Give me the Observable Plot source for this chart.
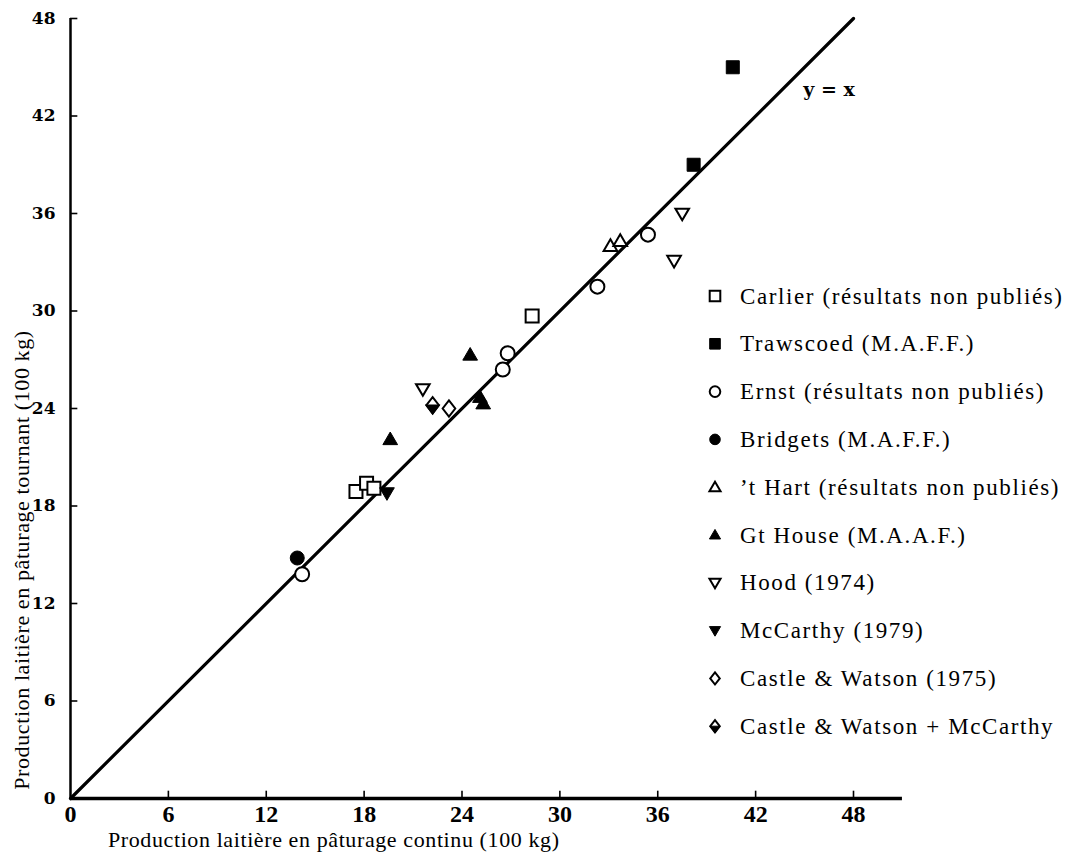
<!DOCTYPE html>
<html><head><meta charset="utf-8">
<script src="https://cdn.jsdelivr.net/npm/d3@7"></script>
<script src="https://cdn.jsdelivr.net/npm/@observablehq/plot@0.6"></script>
<style>
body{margin:0;background:#fff;}
#wrap{position:relative;width:1071px;height:857px;overflow:hidden;}
#wrap svg{position:absolute;left:0;top:0;}
.ttl{position:absolute;font-family:"Liberation Serif",serif;font-size:22px;letter-spacing:0.6px;color:#000;white-space:nowrap;line-height:26px;}
</style></head><body><div id="wrap"></div>
<script>
// ---- data ----
const xTicks = [0, 6, 12, 18, 24, 30, 36, 42, 48];
const yTicks = [0, 6, 12, 18, 24, 30, 36, 42, 48];
const diagonal = [[0, 0], [48, 48]];

const carlier   = [[17.5, 18.9], [18.15, 19.4], [18.6, 19.1], [28.3, 29.7]];
const trawscoed = [[40.6, 45.0], [38.2, 39.0]];
const ernst     = [[26.8, 27.4], [26.5, 26.4], [35.4, 34.7], [32.3, 31.5], [14.2, 13.8]];
const bridgets  = [[13.9, 14.8]];
const tHart     = [[33.1, 34.0], [33.7, 34.3]];
const gtHouse   = [[24.5, 27.3], [25.1, 24.7], [25.3, 24.3], [19.6, 22.1]];
const hood      = [[37.5, 36.0], [37.0, 33.1], [21.6, 25.2]];
const mccarthy  = [[19.4, 18.8]];
const castle    = [[23.2, 24.0]];
const castleMc  = [[22.2, 24.2]];

const seriesNames = [
  "Carlier (résultats non publiés)",
  "Trawscoed (M.A.F.F.)",
  "Ernst (résultats non publiés)",
  "Bridgets (M.A.F.F.)",
  "’t Hart (résultats non publiés)",
  "Gt House (M.A.A.F.)",
  "Hood (1974)",
  "McCarthy (1979)",
  "Castle & Watson (1975)",
  "Castle & Watson + McCarthy"
];
const eqLabel = ["y = x"];
const xTitle = "Production laitière en pâturage continu (100 kg)";
const yTitle = "Production laitière en pâturage tournant (100 kg)";

// ---- symbols ----
function sym(fn){ return {draw(ctx, size){ const r = Math.sqrt(size/Math.PI); fn(ctx, r); }}; }
const SQ = sym((c,r)=>{ c.rect(-r,-r,2*r,2*r); });
const CI = sym((c,r)=>{ c.moveTo(r,0); c.arc(0,0,r,0,2*Math.PI); });
const TU = sym((c,r)=>{ c.moveTo(0,-r*1.05); c.lineTo(r*1.05,r*0.75); c.lineTo(-r*1.05,r*0.75); c.closePath(); });
const TD = sym((c,r)=>{ c.moveTo(0,r*1.05); c.lineTo(r*1.05,-r*0.75); c.lineTo(-r*1.05,-r*0.75); c.closePath(); });
const DI = sym((c,r)=>{ c.moveTo(0,-r*1.15); c.lineTo(r*0.9,0); c.lineTo(0,r*1.15); c.lineTo(-r*0.9,0); c.closePath(); });
const HD = sym((c,r)=>{ c.moveTo(-r*0.9,0); c.lineTo(r*0.9,0); c.lineTo(0,r*1.25); c.closePath(); });

const styles = [
  {data: carlier,   sym: SQ, filled: false, r: 6.5},
  {data: trawscoed, sym: SQ, filled: true,  r: 6.5},
  {data: ernst,     sym: CI, filled: false, r: 7},
  {data: bridgets,  sym: CI, filled: true,  r: 7},
  {data: tHart,     sym: TU, filled: false, r: 6.5},
  {data: gtHouse,   sym: TU, filled: true,  r: 7},
  {data: hood,      sym: TD, filled: false, r: 6.5},
  {data: mccarthy,  sym: TD, filled: true,  r: 7},
  {data: castle,    sym: DI, filled: false, r: 7},
  {data: castleMc,  sym: DI, filled: false, r: 7, half: true}
];

const marks = [
  // tick labels
  Plot.text(xTicks, {x: d => d, y: () => 0, dy: 16, text: d => String(d), fontSize: 24,
    fontFamily: "'Liberation Serif', serif", fontWeight: "bold"}),
  Plot.text(yTicks, {x: () => 0, y: d => d, dx: -15, textAnchor: "end", text: d => String(d), fontSize: 17,
    fontFamily: "'DejaVu Serif', serif", fontWeight: "bold"}),
  // axis lines and inward ticks
  Plot.ruleY([0], {x1: 0, x2: 51, strokeWidth: 3.5}),
  Plot.ruleX([0], {y1: 0, y2: 48, strokeWidth: 2.5}),
  Plot.ruleX(xTicks.slice(1), {y1: -0.1, y2: 0.45, strokeWidth: 1.6}),
  Plot.ruleY(yTicks.slice(1), {x1: 0, x2: 0.45, strokeWidth: 1.6}),
  // y = x
  Plot.line(diagonal, {x: d => d[0], y: d => d[1], strokeWidth: 3.2}),
  Plot.text(eqLabel, {x: () => 46.5, y: () => 43.6, text: d => d, fontSize: 19, fontFamily: "'DejaVu Serif', serif", fontWeight: "bold"})
];
for (const s of styles) {
  marks.push(Plot.dot(s.data, {x: d => d[0], y: d => d[1], symbol: s.sym, r: s.r,
    fill: s.filled ? "black" : "white", stroke: "black", strokeWidth: s.filled ? 1 : 2}));
  if (s.half) marks.push(Plot.dot(s.data, {x: d => d[0], y: d => d[1], symbol: HD, r: s.r, fill: "black", stroke: "black", strokeWidth: 1.5}));
}

const chart = Plot.plot({
  width: 1071, height: 857,
  marginLeft: 70, marginRight: 218, marginTop: 18, marginBottom: 59,
  x: {domain: [0, 48], axis: null},
  y: {domain: [0, 48], axis: null},
  style: {background: "white", color: "black", overflow: "visible"},
  marks
});
const wrap = document.getElementById("wrap");
wrap.appendChild(chart);

// ---- legend ----
const leg = d3.select(wrap).append("svg").attr("width", 1071).attr("height", 857)
  .style("pointer-events", "none");
const legTop = 296, legStep = 47.8, symX = 715, txtX = 740;
styles.forEach((s, i) => {
  const y = legTop + i * legStep;
  const g = leg.append("g").attr("transform", `translate(${symX},${y})`);
  const rr = 5.3;
  g.append("path").attr("d", d3.symbol(s.sym, rr*rr*Math.PI)())
    .attr("fill", s.filled ? "black" : "white").attr("stroke", "black").attr("stroke-width", s.filled ? 1 : 2);
  if (s.half) g.append("path").attr("d", d3.symbol(HD, rr*rr*Math.PI)()).attr("fill", "black").attr("stroke", "black");
  leg.append("text").attr("x", txtX).attr("y", y).attr("dy", "0.33em")
    .attr("font-family", "'Liberation Serif', serif").attr("font-size", 23)
    .attr("letter-spacing", "1.6px")
    .text(seriesNames[i]);
});

// ---- axis titles ----
const xt = document.createElement("div");
xt.className = "ttl"; xt.textContent = xTitle;
xt.style.left = "108px"; xt.style.top = "827px";
wrap.appendChild(xt);
const yt = document.createElement("div");
yt.className = "ttl"; yt.textContent = yTitle;
yt.style.left = "22px"; yt.style.top = "560px";
yt.style.transform = "translate(-50%,-50%) rotate(-90deg)";
wrap.appendChild(yt);
</script></body></html>
